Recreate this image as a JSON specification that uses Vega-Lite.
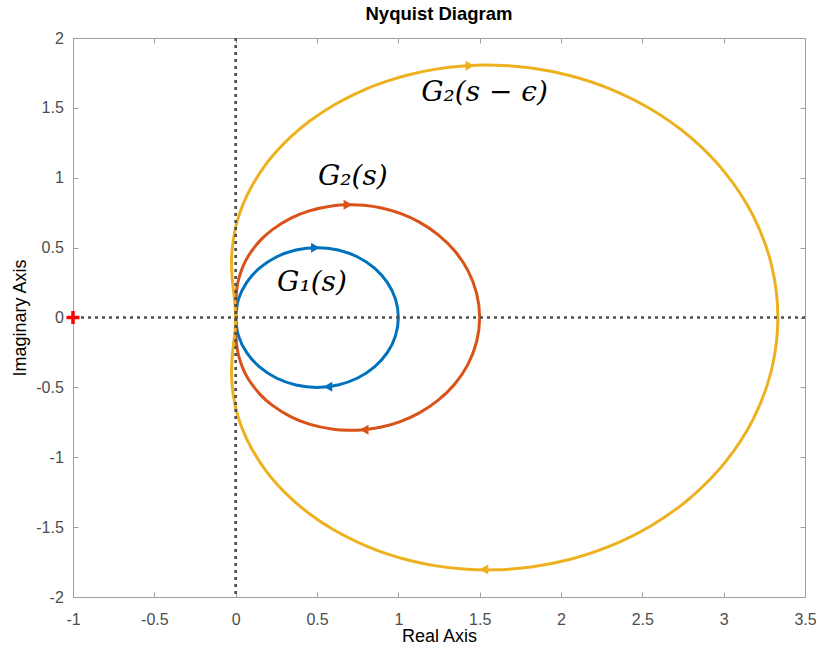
{
  "$schema": "https://vega.github.io/schema/vega-lite/v6.json",
  "width": 732,
  "height": 559,
  "autosize": "none",
  "padding": {"left": 73, "top": 38, "right": 11, "bottom": 52},
  "background": "white",
  "title": {"text": "Nyquist Diagram", "font": "Liberation Sans", "fontSize": 18.5, "fontWeight": "bold", "color": "black", "anchor": "middle", "baseline": "bottom", "offset": 5, "dy": 17},
  "config": {
    "view": {"stroke": "#a0a0a0", "strokeWidth": 1},
    "axis": {"labelFont": "Liberation Sans", "labelFontSize": 16, "labelColor": "#4d4d4d", "titleFont": "Liberation Sans", "titleFontSize": 18, "titleFontWeight": "normal", "titleColor": "black", "grid": false, "domain": false, "tickColor": "#a0a0a0", "tickSize": -5, "labelFlush": false, "labelOverlap": false, "labelBound": false}
  },
  "datasets": {
    "curves": [
      {"s":"G1","i":0,"re":0,"im":0},{"s":"G1","i":1,"re":0.017,"im":0.1294},{"s":"G1","i":2,"re":0.067,"im":0.25},{"s":"G1","i":3,"re":0.1464,"im":0.3536},{"s":"G1","i":4,"re":0.25,"im":0.433},{"s":"G1","i":5,"re":0.3706,"im":0.483},{"s":"G1","i":6,"re":0.5,"im":0.5},{"s":"G1","i":7,"re":0.6294,"im":0.483},{"s":"G1","i":8,"re":0.75,"im":0.433},{"s":"G1","i":9,"re":0.8536,"im":0.3536},{"s":"G1","i":10,"re":0.933,"im":0.25},{"s":"G1","i":11,"re":0.983,"im":0.1294},{"s":"G1","i":12,"re":1,"im":0},
      {"s":"G1","i":13,"re":0.983,"im":-0.1294},{"s":"G1","i":14,"re":0.933,"im":-0.25},{"s":"G1","i":15,"re":0.8536,"im":-0.3536},{"s":"G1","i":16,"re":0.75,"im":-0.433},{"s":"G1","i":17,"re":0.6294,"im":-0.483},{"s":"G1","i":18,"re":0.5,"im":-0.5},{"s":"G1","i":19,"re":0.3706,"im":-0.483},{"s":"G1","i":20,"re":0.25,"im":-0.433},{"s":"G1","i":21,"re":0.1464,"im":-0.3536},{"s":"G1","i":22,"re":0.067,"im":-0.25},{"s":"G1","i":23,"re":0.017,"im":-0.1294},{"s":"G1","i":24,"re":0,"im":0},
      {"s":"G2","i":0,"re":0,"im":0},{"s":"G2","i":1,"re":0,"im":0.02},{"s":"G2","i":2,"re":0,"im":0.0502},{"s":"G2","i":3,"re":0.0006,"im":0.1019},{"s":"G2","i":4,"re":0.0023,"im":0.1479},{"s":"G2","i":5,"re":0.008,"im":0.2122},{"s":"G2","i":6,"re":0.0176,"im":0.2706},{"s":"G2","i":7,"re":0.0462,"im":0.3692},{"s":"G2","i":8,"re":0.0807,"im":0.4458},{"s":"G2","i":9,"re":0.15,"im":0.55},{"s":"G2","i":10,"re":0.2239,"im":0.6273},{"s":"G2","i":11,"re":0.3401,"im":0.7111},{"s":"G2","i":12,"re":0.452,"im":0.763},{"s":"G2","i":13,"re":0.6,"im":0.8},{"s":"G2","i":14,"re":0.6892,"im":0.8074},{"s":"G2","i":15,"re":0.7885,"im":0.8032},{"s":"G2","i":16,"re":0.8969,"im":0.7837},{"s":"G2","i":17,"re":1.0119,"im":0.7447},{"s":"G2","i":18,"re":1.1294,"im":0.6824},{"s":"G2","i":19,"re":1.2434,"im":0.5935},{"s":"G2","i":20,"re":1.3459,"im":0.4771},{"s":"G2","i":21,"re":1.428,"im":0.3351},{"s":"G2","i":22,"re":1.4814,"im":0.1731},{"s":"G2","i":23,"re":1.5,"im":0},
      {"s":"G2","i":24,"re":1.4814,"im":-0.1731},{"s":"G2","i":25,"re":1.428,"im":-0.3351},{"s":"G2","i":26,"re":1.3459,"im":-0.4771},{"s":"G2","i":27,"re":1.2434,"im":-0.5935},{"s":"G2","i":28,"re":1.1294,"im":-0.6824},{"s":"G2","i":29,"re":1.0119,"im":-0.7447},{"s":"G2","i":30,"re":0.8969,"im":-0.7837},{"s":"G2","i":31,"re":0.7885,"im":-0.8032},{"s":"G2","i":32,"re":0.6892,"im":-0.8074},{"s":"G2","i":33,"re":0.6,"im":-0.8},{"s":"G2","i":34,"re":0.452,"im":-0.763},{"s":"G2","i":35,"re":0.3401,"im":-0.7111},{"s":"G2","i":36,"re":0.2239,"im":-0.6273},{"s":"G2","i":37,"re":0.15,"im":-0.55},{"s":"G2","i":38,"re":0.0807,"im":-0.4458},{"s":"G2","i":39,"re":0.0462,"im":-0.3692},{"s":"G2","i":40,"re":0.0176,"im":-0.2706},{"s":"G2","i":41,"re":0.008,"im":-0.2122},{"s":"G2","i":42,"re":0.0023,"im":-0.1479},{"s":"G2","i":43,"re":0.0006,"im":-0.1019},{"s":"G2","i":44,"re":0,"im":-0.0502},{"s":"G2","i":45,"re":0,"im":-0.02},{"s":"G2","i":46,"re":0,"im":0},
      {"s":"G2e","i":0,"re":0,"im":0},{"s":"G2e","i":1,"re":-0.0002,"im":0.02},{"s":"G2e","i":2,"re":-0.0012,"im":0.0502},{"s":"G2e","i":3,"re":-0.0047,"im":0.1017},{"s":"G2e","i":4,"re":-0.009,"im":0.1477},{"s":"G2e","i":5,"re":-0.0154,"im":0.2126},{"s":"G2e","i":6,"re":-0.0207,"im":0.2731},{"s":"G2e","i":7,"re":-0.0234,"im":0.3186},{"s":"G2e","i":8,"re":-0.0252,"im":0.382},{"s":"G2e","i":9,"re":-0.0226,"im":0.4751},{"s":"G2e","i":10,"re":-0.0047,"im":0.6212},{"s":"G2e","i":11,"re":0.0133,"im":0.7036},{"s":"G2e","i":12,"re":0.044,"im":0.8062},{"s":"G2e","i":13,"re":0.0962,"im":0.9344},{"s":"G2e","i":14,"re":0.1852,"im":1.0949},{"s":"G2e","i":15,"re":0.2514,"im":1.1889},{"s":"G2e","i":16,"re":0.3385,"im":1.2923},{"s":"G2e","i":17,"re":0.4532,"im":1.404},{"s":"G2e","i":18,"re":0.6046,"im":1.5209},{"s":"G2e","i":19,"re":0.8039,"im":1.6364},{"s":"G2e","i":20,"re":0.9257,"im":1.6899},{"s":"G2e","i":21,"re":1.0646,"im":1.7373},{"s":"G2e","i":22,"re":1.2223,"im":1.7755},{"s":"G2e","i":23,"re":1.4,"im":1.8},{"s":"G2e","i":24,"re":1.5983,"im":1.8055},{"s":"G2e","i":25,"re":1.8166,"im":1.7852},{"s":"G2e","i":26,"re":2.0523,"im":1.7317},{"s":"G2e","i":27,"re":2.3002,"im":1.6365},{"s":"G2e","i":28,"re":2.5513,"im":1.4919},{"s":"G2e","i":29,"re":2.7933,"im":1.292},{"s":"G2e","i":30,"re":3.0096,"im":1.0349},{"s":"G2e","i":31,"re":3.1824,"im":0.725},{"s":"G2e","i":32,"re":3.2944,"im":0.3738},{"s":"G2e","i":33,"re":3.3333,"im":0},
      {"s":"G2e","i":34,"re":3.2944,"im":-0.3738},{"s":"G2e","i":35,"re":3.1824,"im":-0.725},{"s":"G2e","i":36,"re":3.0096,"im":-1.0349},{"s":"G2e","i":37,"re":2.7933,"im":-1.292},{"s":"G2e","i":38,"re":2.5513,"im":-1.4919},{"s":"G2e","i":39,"re":2.3002,"im":-1.6365},{"s":"G2e","i":40,"re":2.0523,"im":-1.7317},{"s":"G2e","i":41,"re":1.8166,"im":-1.7852},{"s":"G2e","i":42,"re":1.5983,"im":-1.8055},{"s":"G2e","i":43,"re":1.4,"im":-1.8},{"s":"G2e","i":44,"re":1.2223,"im":-1.7755},{"s":"G2e","i":45,"re":1.0646,"im":-1.7373},{"s":"G2e","i":46,"re":0.9257,"im":-1.6899},{"s":"G2e","i":47,"re":0.8039,"im":-1.6364},{"s":"G2e","i":48,"re":0.6046,"im":-1.5209},{"s":"G2e","i":49,"re":0.4532,"im":-1.404},{"s":"G2e","i":50,"re":0.3385,"im":-1.2923},{"s":"G2e","i":51,"re":0.2514,"im":-1.1889},{"s":"G2e","i":52,"re":0.1852,"im":-1.0949},{"s":"G2e","i":53,"re":0.0962,"im":-0.9344},{"s":"G2e","i":54,"re":0.044,"im":-0.8062},{"s":"G2e","i":55,"re":0.0133,"im":-0.7036},{"s":"G2e","i":56,"re":-0.0047,"im":-0.6212},{"s":"G2e","i":57,"re":-0.0226,"im":-0.4751},{"s":"G2e","i":58,"re":-0.0252,"im":-0.382},{"s":"G2e","i":59,"re":-0.0234,"im":-0.3186},{"s":"G2e","i":60,"re":-0.0207,"im":-0.2731},{"s":"G2e","i":61,"re":-0.0154,"im":-0.2126},{"s":"G2e","i":62,"re":-0.009,"im":-0.1477},{"s":"G2e","i":63,"re":-0.0047,"im":-0.1017},{"s":"G2e","i":64,"re":-0.0012,"im":-0.0502},{"s":"G2e","i":65,"re":-0.0002,"im":-0.02},{"s":"G2e","i":66,"re":0,"im":0}
    ],
    "arrows": [
      {"s":"G1","re":0.49,"im":0.5,"dir":"r"},{"s":"G1","re":0.567,"im":-0.495,"dir":"l"},
      {"s":"G2","re":0.69,"im":0.807,"dir":"r"},{"s":"G2","re":0.79,"im":-0.803,"dir":"l"},
      {"s":"G2e","re":1.44,"im":1.801,"dir":"r"},{"s":"G2e","re":1.526,"im":-1.804,"dir":"l"}
    ],
    "labels": [
      {"t":"G₁(s)","re":0.469,"im":0.247},
      {"t":"G₂(s)","re":0.72,"im":1.005},
      {"t":"G₂(s − ϵ)","re":1.53,"im":1.606}
    ],
    "critical": [{"re":-1,"im":0}]
  },
  "resolve": {"axis": {"x": "independent", "y": "independent"}},
  "layer": [
    {
      "data": {"name": "curves"},
      "mark": {"type": "line", "strokeWidth": 3, "strokeJoin": "round", "strokeCap": "round", "interpolate": "catmull-rom"},
      "encoding": {
        "x": {"field": "re", "type": "quantitative", "scale": {"domain": [-1, 3.5], "nice": false, "zero": false}, "axis": {"orient": "bottom", "title": "Real Axis", "values": [-1,-0.5,0,0.5,1,1.5,2,2.5,3,3.5], "labelExpr": "datum.value + ''", "labelPadding": 19, "titleBaseline": "alphabetic", "titleY": 44.7}},
        "y": {"field": "im", "type": "quantitative", "scale": {"domain": [-2, 2], "nice": false, "zero": false}, "axis": {"orient": "left", "title": "Imaginary Axis", "values": [-2,-1.5,-1,-0.5,0,0.5,1,1.5,2], "labelExpr": "datum.value + ''", "labelPadding": 14.7, "titleBaseline": "alphabetic", "titleX": -48, "titleAngle": -90}},
        "color": {"field": "s", "type": "nominal", "scale": {"domain": ["G1","G2","G2e"], "range": ["#0072BD","#D95319","#EDB120"]}, "legend": null},
        "order": {"field": "i", "type": "quantitative"}
      }
    },
    {
      "data": {"name": "arrows"},
      "mark": {"type": "point", "filled": true, "opacity": 1, "size": 100},
      "encoding": {
        "x": {"field": "re", "type": "quantitative", "axis": {"orient": "top", "title": null, "labels": false, "values": [-1,-0.5,0,0.5,1,1.5,2,2.5,3,3.5]}},
        "y": {"field": "im", "type": "quantitative", "axis": {"orient": "right", "title": null, "labels": false, "values": [-2,-1.5,-1,-0.5,0,0.5,1,1.5,2]}},
        "color": {"field": "s", "type": "nominal", "legend": null},
        "shape": {"field": "dir", "type": "nominal", "scale": {"domain": ["r","l"], "range": ["triangle-right","triangle-left"]}, "legend": null}
      }
    },
    {
      "data": {"values": [{}]},
      "mark": {"type": "rule", "color": "#505050", "strokeWidth": 2.7, "strokeDash": [3, 4]},
      "encoding": {"x": {"datum": 0, "type": "quantitative", "axis": null}}
    },
    {
      "data": {"values": [{}]},
      "mark": {"type": "rule", "color": "#505050", "strokeWidth": 2.7, "strokeDash": [3, 4]},
      "encoding": {"y": {"datum": 0, "type": "quantitative", "axis": null}}
    },
    {
      "data": {"name": "critical"},
      "mark": {"type": "point", "shape": "M-1,0H1M0,-1V1", "size": 169, "stroke": "#ff0000", "strokeWidth": 3.5, "filled": false, "opacity": 1},
      "encoding": {
        "x": {"field": "re", "type": "quantitative", "axis": null},
        "y": {"field": "im", "type": "quantitative", "axis": null}
      }
    },
    {
      "data": {"name": "labels"},
      "mark": {"type": "text", "font": "DejaVu Serif", "fontStyle": "italic", "fontSize": 28, "color": "black", "align": "center", "baseline": "middle"},
      "encoding": {
        "x": {"field": "re", "type": "quantitative", "axis": null},
        "y": {"field": "im", "type": "quantitative", "axis": null},
        "text": {"field": "t"}
      }
    }
  ]
}
